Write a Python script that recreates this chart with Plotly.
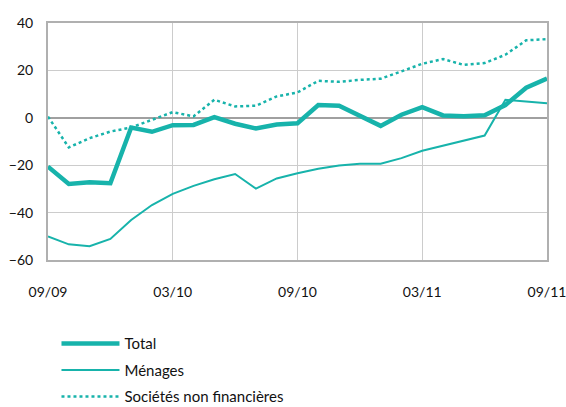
import plotly.graph_objects as go

months = list(range(25))
tick_vals = [0, 6, 12, 18, 24]
tick_text = ["09/09", "03/10", "09/10", "03/11", "09/11"]

total = [-20.6, -27.9, -27.2, -27.6, -4.1, -5.9, -3.1, -3.0, 0.3, -2.5, -4.5, -2.8,
         -2.3, 5.4, 5.1, 0.8, -3.4, 1.3, 4.5, 1.0, 0.7, 1.1, 5.4, 12.7, 16.6]
menages = [-50.1, -53.4, -54.2, -51.1, -43.1, -36.8, -32.1, -28.7, -25.9, -23.7, -29.9, -25.6,
           -23.4, -21.5, -20.1, -19.4, -19.4, -17.0, -13.9, -11.7, -9.4, -7.5, 7.6, 6.8, 6.1]
societes = [0.5, -12.5, -8.6, -5.8, -4.1, -0.8, 2.4, 0.6, 7.6, 4.8, 5.1, 9.0,
            10.7, 15.6, 15.2, 16.0, 16.5, 19.6, 22.8, 24.8, 22.3, 23.1, 26.6, 32.7, 33.2]

color = "#17b3ab"
font_family = "Lato, 'Open Sans', sans-serif"

fig = go.Figure()
fig.add_trace(go.Scatter(x=months, y=total, name="Total", mode="lines",
                         line=dict(color=color, width=4.5), legendgroup="a"))
fig.add_trace(go.Scatter(x=months, y=menages, name="Ménages", mode="lines",
                         line=dict(color=color, width=2), legendgroup="b"))
fig.add_trace(go.Scatter(x=months, y=societes, name="Sociétés non financières", mode="lines",
                         line=dict(color=color, width=2.5, dash="dot"), legendgroup="c"))

fig.update_layout(
    width=566, height=407,
    margin=dict(l=48, r=19, t=23, b=147, autoexpand=False),
    paper_bgcolor="white", plot_bgcolor="white",
    font=dict(family=font_family, size=14, color="#111"),
    showlegend=True,
    legend=dict(x=0.017, y=-0.284, xanchor="left", yanchor="top",
                font=dict(size=15, family=font_family, color="#111"),
                tracegroupgap=4, itemwidth=58, bgcolor="rgba(0,0,0,0)"),
)
fig.update_xaxes(range=[0, 24], tickvals=tick_vals, ticktext=tick_text,
                 showgrid=True, gridcolor="#cccccc", gridwidth=1,
                 showline=True, linecolor="#b0b0b0", linewidth=2, mirror=True,
                 ticks="", ticklabelstandoff=18, zeroline=False, automargin=False,
                 ticklabeloverflow="allow", tickfont=dict(size=14))
fig.update_yaxes(range=[-60, 40], dtick=20,
                 showgrid=True, gridcolor="#cccccc", gridwidth=1,
                 showline=True, linecolor="#b0b0b0", linewidth=2, mirror=True,
                 zeroline=True, zerolinecolor="#a0a0a0", zerolinewidth=2,
                 ticks="", ticklabelstandoff=10, automargin=False,
                 tickfont=dict(size=14))

fig.write_html("out.html", config={"displayModeBar": False},
               post_script="document.body.style.margin='0';document.body.style.overflow='hidden';")
